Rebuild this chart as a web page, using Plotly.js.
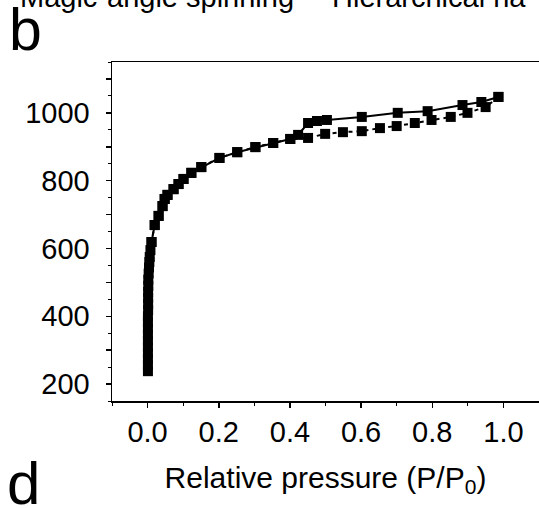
<!DOCTYPE html>
<html>
<head>
<meta charset="utf-8">
<script src="https://cdn.plot.ly/plotly-3.0.1.min.js"></script>
<style>
html,body{margin:0;padding:0;background:#fff;overflow:hidden;}
#chart{width:539px;height:508px;}
</style>
</head>
<body>
<div id="chart"></div>
<script>
// Adsorption branch (dashed line)
const adsX = [0.001,0.001,0.001,0.001,0.001,0.001,0.001,0.001,0.001,0.001,0.0015,0.0015,0.0015,0.0015,0.002,0.002,0.003,0.004,0.005,0.006,0.008,0.011,0.020,0.031,0.042,0.048,0.056,0.073,0.087,0.101,0.123,0.151,0.202,0.252,0.303,0.353,0.401,0.451,0.499,0.549,0.602,0.653,0.700,0.751,0.798,0.852,0.899,0.950,0.986];
const adsY = [238,256,274,292,310,328,346,364,382,400,418,436,454,472,490,508,526,544,560,575,595,619,669,696,725,746,758,775,790,805,823,840,867,884,899,911,923,926,938,943,946,955,961,970,979,988,1000,1017,1047];
// Desorption branch (solid line)
const desX = [0.986,0.938,0.885,0.787,0.703,0.602,0.504,0.476,0.451,0.423,0.401,0.353,0.303,0.252,0.202,0.151,0.123,0.101,0.087,0.073,0.056,0.048,0.042,0.031,0.020,0.011];
const desY = [1047,1032,1023,1005,1000,988,979,976,970,935,923,911,899,884,867,840,823,805,790,775,758,746,725,696,669,619];
// Tick labels
const xTickVals = [0,0.2,0.4,0.6,0.8,1.0];
const xTickText = ["0.0","0.2","0.4","0.6","0.8","1.0"];
const yTickVals = [200,300,400,500,600,700,800,900,1000,1100];
const yTickText = ["200","","400","","600","","800","","1000",""];

const FONT = "Liberation Sans, Arial, sans-serif";

const traces = [
  {x: adsX, y: adsY, type:'scatter', mode:'lines+markers',
   line:{color:'#000', width:2, dash:'4px,4px'},
   marker:{symbol:'square', size:10, color:'#000'}, showlegend:false},
  {x: desX, y: desY, type:'scatter', mode:'lines+markers',
   line:{color:'#000', width:2},
   marker:{symbol:'square', size:10, color:'#000'}, showlegend:false}
];

const layout = {
  width:539, height:508,
  margin:{l:112, r:0, t:62, b:107},
  paper_bgcolor:'#fff', plot_bgcolor:'#fff',
  font:{family:FONT, color:'#000', size:29},
  xaxis:{
    range:[-0.1,1.1], showgrid:false, zeroline:false,
    showline:true, linecolor:'#000', linewidth:1.5, mirror:true,
    ticks:'outside', ticklen:5, tickwidth:1.5, tickcolor:'#000',
    tickmode:'array', tickvals:xTickVals, ticktext:xTickText,
    tickfont:{family:FONT, size:29, color:'#000'},
    ticklabelstandoff:0,
    minor:{tickmode:'linear', tick0:0, dtick:0.1, ticks:'outside', ticklen:3, tickwidth:1, tickcolor:'#000', showgrid:false},
    title:{text:'\u00A0\u00A0Relative pressure (P/P<sub>0</sub>)', font:{family:FONT, size:30, color:'#000'}, standoff:19},
    automargin:false
  },
  yaxis:{
    range:[150,1150], showgrid:false, zeroline:false,
    showline:true, linecolor:'#000', linewidth:1.5, mirror:true,
    ticks:'outside', ticklen:5, tickwidth:1.5, tickcolor:'#000',
    tickmode:'array', tickvals:yTickVals, ticktext:yTickText,
    tickfont:{family:FONT, size:29, color:'#000'},
    ticklabelstandoff:10,
    minor:{tickmode:'linear', tick0:150, dtick:50, ticks:'outside', ticklen:3, tickwidth:1, tickcolor:'#000', showgrid:false},
    automargin:false
  },
  annotations:[
    {text:'b', xref:'paper', yref:'paper', x:-0.245, y:1.03, yshift:-13, xanchor:'left', yanchor:'bottom', showarrow:false, font:{family:FONT, size:59, color:'#000'}},
    {text:'d', xref:'paper', yref:'paper', x:-0.25, y:-0.348, xanchor:'left', yanchor:'bottom', showarrow:false, font:{family:FONT, size:60, color:'#000'}},
    {text:'Magic-angle spinning', xref:'paper', yref:'paper', x:-0.22, y:1.16, yshift:-7, xanchor:'left', yanchor:'bottom', showarrow:false, font:{family:FONT, size:29, color:'#000'}},
    {text:'Hierarchical na', xref:'paper', yref:'paper', x:0.51, y:1.16, yshift:-7, xanchor:'left', yanchor:'bottom', showarrow:false, font:{family:FONT, size:29, color:'#000'}}
  ]
};

Plotly.newPlot('chart', traces, layout, {displayModeBar:false, staticPlot:true});
</script>
</body>
</html>
